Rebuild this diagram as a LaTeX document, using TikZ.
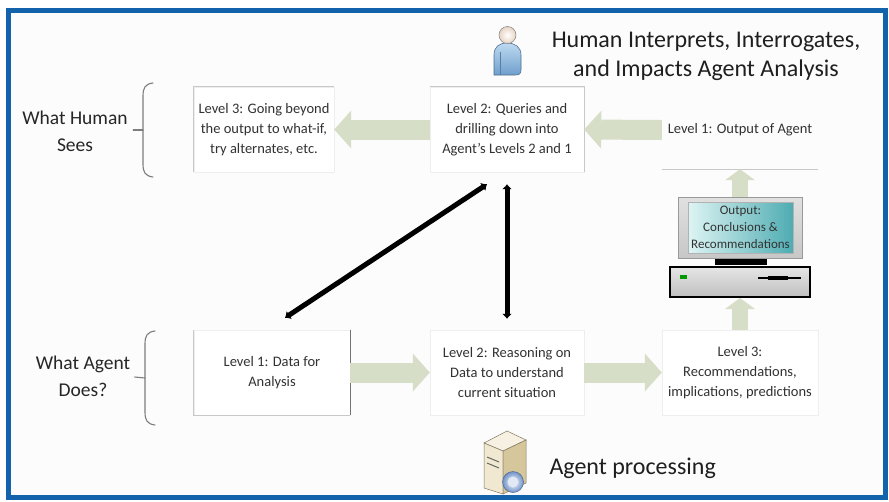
\documentclass[tikz,border=0pt]{standalone}
\usepackage{fontspec}
\setmainfont{Carlito}
\usetikzlibrary{arrows.meta,calc}
\definecolor{frameblue}{RGB}{18,98,172}
\definecolor{sage}{RGB}{214,222,200}
\definecolor{txt}{RGB}{50,50,50}
\definecolor{edge}{RGB}{200,200,200}
\definecolor{faint}{RGB}{238,238,238}
\definecolor{bracecol}{RGB}{125,125,125}
\definecolor{screenlight}{RGB}{222,244,244}
\definecolor{screendark}{RGB}{78,172,178}
\definecolor{skin}{RGB}{232,212,196}
\definecolor{shirtlight}{RGB}{190,218,240}
\definecolor{shirtdark}{RGB}{110,158,205}
\definecolor{beige}{RGB}{240,232,208}
\definecolor{beigedark}{RGB}{214,198,156}
\definecolor{discblue}{RGB}{112,146,200}
\begin{document}
\begin{tikzpicture}[x=1pt,y=-1pt,
  panel/.style={draw=faint, fill=white, align=center, text=txt,
    font=\fontsize{14.5}{20}\selectfont, inner sep=0pt},
  edgeline/.style={draw=edge, line width=1.2pt},
  side/.style={align=center, text=black!85, font=\fontsize{19.5}{27}\selectfont},
  fat/.style={draw=sage, line width=20pt,
    -{Triangle[length=17pt,width=38pt,line width=0pt]}},
  fatup/.style={draw=sage, line width=16pt,
    -{Triangle[length=11pt,width=30pt,line width=0pt]}},
  link/.style={draw=black, line width=5pt,
    {Latex[length=5pt,width=10pt]}-{Latex[length=5pt,width=10pt]}},
  bracepath/.style={draw=bracecol, line width=1.1pt, line cap=round}]

\useasboundingbox (0,0) rectangle (889,501);
\fill[white] (0,0) rectangle (889,501);
\draw[frameblue, line width=5pt, fill=black!1] (8.5,10.5) rectangle (885.5,497.5);

% headings
\node[align=center, text=black!88, font=\fontsize{24}{29}\selectfont] (title) at (706,56)
  {Human Interprets, Interrogates,\\and Impacts Agent Analysis};
\node[side] (seeslbl) at (75,131) {What Human\\Sees};
\node[side] (doeslbl) at (83,376) {What Agent\\Does?};
\node[text=black!88, font=\fontsize{24}{29}\selectfont, anchor=west] (proc) at (546,468) {Agent processing};

% braces
\draw[bracepath] (153,83) .. controls (145,84) and (143,88) .. (143,96) -- (143,164)
  .. controls (143,172) and (145,176) .. (153,177);
\draw[bracepath] (seeslbl.east) ++(2,-1) -- (143,130);
\draw[bracepath] (155,331) .. controls (147,332) and (145,336) .. (145,344) -- (145,412)
  .. controls (145,420) and (147,424) .. (155,425);
\draw[bracepath] (doeslbl.east) ++(1,1) -- (145,378);

% top row
\node[panel, minimum width=140pt, minimum height=85pt] (L3top) at (264,129.5)
  {Level 3: Going beyond\\the output to what-if,\\try alternates, etc.};
\node[panel, minimum width=154pt, minimum height=85pt] (L2top) at (507,129.5)
  {Level 2: Queries and\\drilling down into\\Agent’s Levels 2 and 1};
\node[panel, draw=none, fill=none, minimum width=156pt, minimum height=78pt] (L1out) at (740,130)
  {Level 1: Output of Agent};
\draw[edgeline] (L3top.south west) -- (L3top.north west) -- (L3top.north east);
\draw[edgeline] (L2top.north west) -- (L2top.north east) -- (L2top.south east);
\draw[edgeline] (L1out.south west) -- (L1out.south east);

% bottom row
\node[panel, minimum width=156pt, minimum height=85pt] (L1data) at (272,372.5)
  {Level 1: Data for\\Analysis};
\node[panel, minimum width=154pt, minimum height=85pt] (L2reason) at (507,372.5)
  {Level 2: Reasoning on\\Data to understand\\current situation};
\node[panel, minimum width=156pt, minimum height=85pt] (L3rec) at (740,372.5)
  {Level 3:\\Recommendations,\\implications, predictions};
\draw[edgeline] (L1data.north west) -- (L1data.south west) -- (L1data.south east);
\draw[draw=black!55, line width=1.4pt] (L1data.north east) -- (L1data.south east);
\draw[edgeline, draw=faint] (L2reason.north east) -- (L2reason.south east) -- (L2reason.south west);
\draw[edgeline, draw=faint] (L3rec.south west) -- (L3rec.south east);

% computer
\node[draw=black!40, line width=0.8pt, top color=black!12, bottom color=black!22,
  minimum width=124pt, minimum height=61pt, inner sep=0pt] (monitor) at (740,227.5) {};
\node[draw=black!30, line width=0.5pt, shading=axis, shading angle=150,
  left color=screenlight, right color=screendark, text=black!80,
  minimum width=105pt, minimum height=51pt, inner sep=0pt, align=center,
  font=\fontsize{13}{17}\selectfont] (screen) at (740.5,227.5)
  {Output:\\Conclusions \&\\Recommendations};
\node[fill=black, minimum width=52pt, minimum height=6pt, inner sep=0pt] (stand) at (741,262) {};
\node[draw=black, line width=2pt, top color=black!10, bottom color=black!25,
  minimum width=140pt, minimum height=30pt, inner sep=0pt] (base) at (740,282) {};
\node[fill=green!60!black, minimum width=7pt, minimum height=3.5pt, inner sep=0pt] (led)
  at ($(base.west)+(14,-5)$) {};
\coordinate (slotA) at ($(base.east)+(-53,-4)$);
\coordinate (slotB) at ($(base.east)+(-10,-4)$);
\draw[line width=1.6pt] (slotA) -- (slotB);
\draw[line width=4pt] ($(slotA)+(10,0)$) -- ($(slotA)+(30,0)$);

% flow arrows
\draw[fat] (L1out.west) -- (L2top.east);
\draw[fat] (L2top.west) -- (L3top.east);
\draw[fat] (L1data.east) -- (L2reason.west);
\draw[fat] (L2reason.east) -- (L3rec.west);
\draw[fatup] (L3rec.north) -- (base.south);
\draw[fatup] (monitor.north) -- (L1out.south);

% links back to the human side
\draw[link] ($(L1data.north)+(13,-12)$) -- ($(L2top.south)+(-20,12)$);
\draw[link, shorten <=12pt, shorten >=11pt] (L2top.south) -- (L2reason.north);

% human figure
\shade[top color=shirtlight, bottom color=shirtdark, draw=shirtdark!70!black, line width=0.6pt]
  (494,75) -- (494,55) .. controls (494,47) and (499,43) .. (507,43)
  .. controls (515,43) and (521,47) .. (521,55) -- (521,70)
  .. controls (521,74) and (519,75) .. (515,75) -- cycle;
\draw[shirtdark!80!black, line width=0.5pt] (500,52) -- (500,75);
\shade[inner color=white, outer color=skin, draw=black!45, line width=0.6pt] (507.5,35) circle (8.5pt);

% server
\fill[beige!60!white, draw=beigedark!60!black, line width=0.5pt]
  (484,443) -- (507,431) -- (526,440) -- (503,451) -- cycle;
\fill[beige, draw=beigedark!60!black, line width=0.5pt]
  (484,443) -- (503,451) -- (503,494) -- (484,488) -- cycle;
\fill[beigedark, draw=beigedark!60!black, line width=0.5pt]
  (503,451) -- (526,440) -- (526,483) -- (503,494) -- cycle;
\draw[black!60, line width=1pt] (487,457) -- (499,462);
\draw[black!60, line width=1pt] (487,463) -- (499,468);
\shade[inner color=white, outer color=discblue, draw=discblue!70!black, line width=0.5pt]
  (513,482) circle (10.5pt);
\fill[white!80!discblue] (513,482) circle (5.5pt);
\end{tikzpicture}
\end{document}
